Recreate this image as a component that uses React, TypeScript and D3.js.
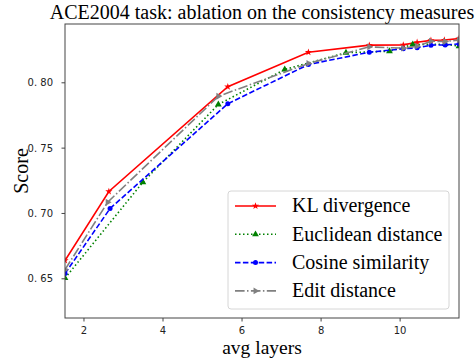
import React from 'react';
import * as d3 from 'd3';

const W = 476;
const H = 363;
const M = { top: 24, right: 17, bottom: 45, left: 65 };

const X_DOMAIN = [1.52, 11.49];
const Y_DOMAIN = [0.62, 0.845];
const X_TICKS = [2, 4, 6, 8, 10];
const Y_TICKS = [0.65, 0.7, 0.75, 0.8];
const Y_TICK_LABELS = ['0. 65', '0. 70', '0. 75', '0. 80'];

const KL_X = [1.52, 2.63, 5.64, 7.68, 9.22, 10.08, 10.43, 10.78, 11.12, 11.49];
const KL_Y = [0.664, 0.7168, 0.797, 0.8234, 0.8288, 0.829, 0.831, 0.8325, 0.8327, 0.8338];

const EUC_X = [1.52, 3.49, 5.4, 7.08, 8.63, 9.73, 10.32, 11.14, 11.49];
const EUC_Y = [0.6505, 0.7239, 0.7834, 0.8102, 0.823, 0.8242, 0.8293, 0.8296, 0.828];

const COS_X = [1.52, 2.66, 5.64, 7.68, 9.22, 10.08, 10.43, 10.78, 11.14, 11.49];
const COS_Y = [0.654, 0.7038, 0.784, 0.814, 0.8234, 0.826, 0.8268, 0.8288, 0.829, 0.8297];

const EDIT_X = [1.52, 2.6, 5.4, 7.68, 9.22, 10.08, 10.43, 10.78, 11.14, 11.49];
const EDIT_Y = [0.657, 0.7086, 0.7897, 0.8148, 0.8275, 0.8265, 0.828, 0.8318, 0.8316, 0.8328];

const SERIES = [
  { name: 'KL divergence', xs: KL_X, ys: KL_Y, color: '#ff0000', dash: null, marker: 'star' },
  { name: 'Euclidean distance', xs: EUC_X, ys: EUC_Y, color: '#008000', dash: '1.5,2.5', marker: 'triUp' },
  { name: 'Cosine similarity', xs: COS_X, ys: COS_Y, color: '#0000ff', dash: '5.5,2.4', marker: 'circle' },
  { name: 'Edit distance', xs: EDIT_X, ys: EDIT_Y, color: '#808080', dash: '9.6,2.4,1.5,2.4', marker: 'triRight' },
];

const SERIF = '"Liberation Serif", "Times New Roman", serif';
const SANS = '"DejaVu Sans", sans-serif';

// small matplotlib-like markers
function Marker({ type, x, y, color }: { type: string; x: number; y: number; color: string }) {
  if (type === 'circle') return <circle cx={x} cy={y} r={2.5} fill={color} />;
  if (type === 'star') {
    const p = d3.symbol(d3.symbolStar, 16)();
    return <path d={p || ''} transform={`translate(${x},${y})`} fill={color} />;
  }
  const p = d3.symbol(d3.symbolTriangle, 20)();
  const rot = type === 'triRight' ? 90 : 0;
  return <path d={p || ''} transform={`translate(${x},${y}) rotate(${rot})`} fill={color} />;
}

export default function App() {
  const iw = W - M.left - M.right;
  const ih = H - M.top - M.bottom;
  const x = d3.scaleLinear().domain(X_DOMAIN).range([0, iw]);
  const y = d3.scaleLinear().domain(Y_DOMAIN).range([ih, 0]);
  const line = d3.line<[number, number]>().x(d => x(d[0])).y(d => y(d[1]));

  const legend = { x: 163, y: 167, w: 221, h: 118, row: 28.3 };

  return (
    <svg width={W} height={H} style={{ position: 'absolute', left: 0, top: 0, background: '#fff' }}>
      <text x={M.left + iw / 2} y={19} textAnchor="middle" fontFamily={SERIF} fontSize={20} fill="#000">
        ACE2004 task: ablation on the consistency measures
      </text>
      <g transform={`translate(${M.left},${M.top})`}>
        <defs>
          <clipPath id="plotclip">
            <rect x={0} y={0} width={iw} height={ih} />
          </clipPath>
        </defs>
        {SERIES.map(s => {
          const pts = s.xs.map((v, i) => [v, s.ys[i]] as [number, number]);
          return (
            <g key={s.name} clipPath="url(#plotclip)">
              <path d={line(pts) || ''} fill="none" stroke={s.color} strokeWidth={1.6}
                strokeDasharray={s.dash || undefined} />
              {pts.map((p, i) => (
                <Marker key={i} type={s.marker} x={x(p[0])} y={y(p[1])} color={s.color} />
              ))}
            </g>
          );
        })}
        <rect x={0} y={0} width={iw} height={ih} fill="none" stroke="#444" strokeWidth={1} />
        {X_TICKS.map(t => (
          <g key={t} transform={`translate(${x(t)},${ih})`}>
            <line y2={3.5} stroke="#444" />
            <text y={15.5} textAnchor="middle" fontFamily={SANS} fontSize={10} fill="#222">{t}</text>
          </g>
        ))}
        {Y_TICKS.map((t, i) => (
          <g key={t} transform={`translate(0,${y(t)})`}>
            <line x2={-3.5} stroke="#444" />
            <text x={-12} dy="0.35em" textAnchor="end" fontFamily={SANS} fontSize={10} fill="#222">
              {Y_TICK_LABELS[i]}
            </text>
          </g>
        ))}
        <g transform={`translate(${legend.x},${legend.y})`}>
          <rect width={legend.w} height={legend.h} rx={3} fill="#fff" fillOpacity={0.8} stroke="#d6d6d6" />
          {SERIES.map((s, i) => {
            const cy = 15 + i * legend.row;
            return (
              <g key={s.name} transform={`translate(0,${cy})`}>
                <line x1={7} x2={48} stroke={s.color} strokeWidth={1.6} strokeDasharray={s.dash || undefined} />
                <Marker type={s.marker} x={27.5} y={0} color={s.color} />
                <text x={64} dy="0.32em" fontFamily={SERIF} fontSize={20} fill="#000">{s.name}</text>
              </g>
            );
          })}
        </g>
      </g>
      <text transform={`translate(28,${M.top + ih / 2}) rotate(-90)`} textAnchor="middle"
        fontFamily={SERIF} fontSize={20} fill="#000">Score</text>
      <text x={M.left + iw / 2} y={354} textAnchor="middle" fontFamily={SERIF} fontSize={19.5} fill="#000">
        avg layers
      </text>
    </svg>
  );
}
